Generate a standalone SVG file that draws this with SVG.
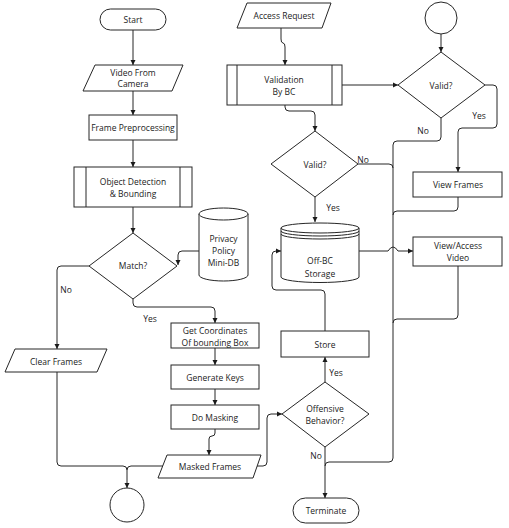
<svg xmlns="http://www.w3.org/2000/svg" width="509" height="528" viewBox="0 0 509 528">
<defs>
<style>
.s{fill:#fff;stroke:#262626;stroke-width:1}
.l{fill:none;stroke:#262626;stroke-width:1}
.c{fill:none;stroke:#262626;stroke-width:1}
.c2{fill:none;stroke:#262626;stroke-width:1}
text{font-family:"Open Sans","Noto Sans",sans-serif;font-size:8.5px;fill:#222;text-anchor:middle;dominant-baseline:central}
</style>
<marker id="a" markerWidth="6" markerHeight="6" refX="5" refY="3" orient="auto" markerUnits="userSpaceOnUse">
<path d="M0,0.5 L5,3 L0,5.5 Z" fill="#1a1a1a"/>
</marker>
</defs>
<rect width="509" height="528" fill="#fff"/>

<g id="connectors">
<path class="c" marker-end="url(#a)" d="M133,30 V65"/>
<path class="c" marker-end="url(#a)" d="M133,91 V115"/>
<path class="c" marker-end="url(#a)" d="M133,140 V167"/>
<path class="c" marker-end="url(#a)" d="M133,207 V233"/>
<path class="c" marker-end="url(#a)" d="M199,251 H182 Q178,251 178,255 V265"/>
<path class="c" marker-end="url(#a)" d="M89,266 H61 Q57,266 57,270 V349"/>
<path class="c" marker-end="url(#a)" d="M133,299 V303 Q133,307 137,307 H211 Q215,307 215,311 V323"/>
<path class="c" marker-end="url(#a)" d="M215,348 V365"/>
<path class="c" marker-end="url(#a)" d="M215,389 V405"/>
<path class="c" marker-end="url(#a)" d="M215,429 V433 Q215,436 212,436 Q209,436 209,439 V455"/>
<path class="c" marker-end="url(#a)" d="M57,372 V462 Q57,466 61,466 H123 Q127,466 127,470 V488"/>
<path class="c" d="M163,466 H131 Q127,466 127,470"/>
<path class="c" marker-end="url(#a)" d="M257,466 H263 Q267,466 267,462 V418 Q267,414 271,414 H282"/>
<path class="c" marker-end="url(#a)" d="M325,382 V357"/>
<path class="c" marker-end="url(#a)" d="M325,331 V294 Q325,290 321,290 H276 Q272,290 272,286 V255 Q272,251 276,251 H281"/>
<path class="c" marker-end="url(#a)" d="M325,447 V498"/>
<path class="c" d="M441,118 V137 Q441,141 437,141 H397 Q393,141 393,145 V458 Q393,462 389,462 H329 Q325,462 325,466"/>
<path class="c" d="M358,164 H389 Q393,164 393,168"/>
<path class="c" d="M458,197 V207 Q458,211 454,211 H397 Q393,211 393,215"/>
<path class="c" d="M458,266 V315 Q458,319 454,319 H397 Q393,319 393,323"/>
<path class="c" marker-end="url(#a)" d="M359,251 H388 Q393,243 398,251 H413"/>
<path class="c" marker-end="url(#a)" d="M281,28 V39 Q281,43 283,43 Q285,43 285,47 V65"/>
<path class="c" marker-end="url(#a)" d="M342,85 H398"/>
<path class="c" marker-end="url(#a)" d="M441,34 V52"/>
<path class="c" marker-end="url(#a)" d="M485,85 H493 Q497,85 497,89 V124 Q497,128 493,128 H462 Q458,128 458,132 V172"/>
<path class="c" marker-end="url(#a)" d="M285,105 V107 Q285,111 289,111 H311 Q315,111 315,115 V131"/>
<path class="c" marker-end="url(#a)" d="M315,197 V222"/>
<text x="66" y="289">No</text>
<text x="150" y="318">Yes</text>
<text x="336" y="372">Yes</text>
<text x="316" y="455">No</text>
<text x="363" y="159">No</text>
<text x="333" y="207">Yes</text>
<text x="423" y="130">No</text>
<text x="479" y="115">Yes</text>
</g>

<g id="start"><rect class="s" x="100" y="9" width="66" height="21" rx="10.5"/><text x="133" y="19.5">Start</text></g>
<g id="video"><polygon class="s" points="95,65 183,65 172,91 83,91"/><text x="133" y="72">Video From</text><text x="133" y="83.5">Camera</text></g>
<g id="frame"><rect class="s" x="89" y="115" width="88" height="25"/><text x="133" y="127.5">Frame Preprocessing</text></g>
<g id="objdet"><rect class="s" x="74" y="167" width="118" height="40"/><line class="l" x1="86" y1="167" x2="86" y2="207"/><line class="l" x1="180" y1="167" x2="180" y2="207"/><text x="133" y="181">Object Detection</text><text x="133" y="193">&amp; Bounding</text></g>
<g id="match"><polygon class="s" points="133,233 177,266 133,299 89,266"/><text x="133" y="265">Match?</text></g>
<g id="privacy"><path class="s" d="M199,214 V275 A24.5,6 0 0 0 248,275 V214"/><ellipse class="s" cx="223.5" cy="214" rx="24.5" ry="6"/><text x="223.5" y="238">Privacy</text><text x="223.5" y="250">Policy</text><text x="223.5" y="262">Mini-DB</text></g>
<g id="clear"><polygon class="s" points="15,349 107,349 97,372 5,372"/><text x="56" y="361">Clear Frames</text></g>
<g id="getcoord"><rect class="s" x="171" y="323" width="88" height="25"/><text x="215" y="330">Get Coordinates</text><text x="215" y="342">Of bounding Box</text></g>
<g id="genkeys"><rect class="s" x="171" y="365" width="88" height="24"/><text x="215" y="377">Generate Keys</text></g>
<g id="domask"><rect class="s" x="171" y="405" width="88" height="24"/><text x="215" y="417">Do Masking</text></g>
<g id="masked"><polygon class="s" points="167,455 261,455 253,478 158,478"/><text x="210" y="466">Masked Frames</text></g>
<g id="endcircle"><circle class="s" cx="127" cy="505" r="17"/></g>
<g id="access"><polygon class="s" points="247,3 331,3 322,28 237,28"/><text x="284" y="15.5">Access Request</text></g>
<g id="validation"><rect class="s" x="227" y="65" width="115" height="40"/><line class="l" x1="237" y1="65" x2="237" y2="105"/><line class="l" x1="332" y1="65" x2="332" y2="105"/><text x="284" y="79">Validation</text><text x="284" y="91">By BC</text></g>
<g id="topcircle"><circle class="s" cx="441" cy="18" r="16"/></g>
<g id="valid1"><polygon class="s" points="441,52 485,85 441,118 398,85"/><text x="441" y="85">Valid?</text></g>
<g id="valid2"><polygon class="s" points="315,131 358,164 315,197 271,164"/><text x="315" y="164">Valid?</text></g>
<g id="storage"><path class="s" d="M281,228 V277 A39,5.5 0 0 0 359,277 V228"/><ellipse class="s" cx="320" cy="228" rx="39" ry="5"/><path class="l" d="M281,231 A39,5 0 0 0 359,231"/><path class="l" d="M281,234 A39,5 0 0 0 359,234"/><text x="320" y="260">Off-BC</text><text x="320" y="273">Storage</text></g>
<g id="store"><rect class="s" x="281" y="331" width="88" height="26"/><text x="325" y="344">Store</text></g>
<g id="offensive"><polygon class="s" points="325,382 369,414 325,447 282,414"/><text x="325" y="408">Offensive</text><text x="325" y="420">Behavior?</text></g>
<g id="terminate"><rect class="s" x="293" y="498" width="66" height="25" rx="12.5"/><text x="326" y="510.5">Terminate</text></g>
<g id="viewframes"><rect class="s" x="413" y="172" width="89" height="25"/><text x="458" y="184.5">View Frames</text></g>
<g id="viewaccess"><rect class="s" x="413" y="237" width="89" height="29"/><text x="458" y="245">View/Access</text><text x="458" y="257">Video</text></g>
</svg>
